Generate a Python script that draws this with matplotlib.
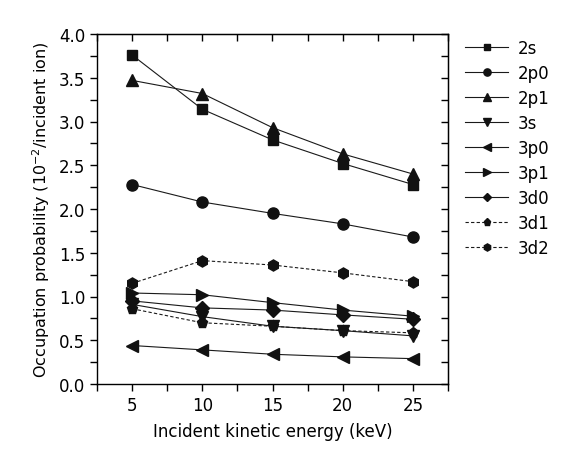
import matplotlib
matplotlib.use("Agg")
import matplotlib.pyplot as plt
from matplotlib.ticker import MultipleLocator, FormatStrFormatter

plt.rcParams['font.family'] = ['DejaVu Sans']

energy = [5, 10, 15, 20, 25]
labels = ['2s', '2p0', '2p1', '3s', '3p0', '3p1', '3d0', '3d1', '3d2']
v_2s  = [3.76, 3.14, 2.79, 2.52, 2.28]
v_2p0 = [2.28, 2.08, 1.95, 1.83, 1.68]
v_2p1 = [3.47, 3.32, 2.93, 2.63, 2.40]
v_3s  = [0.91, 0.77, 0.66, 0.61, 0.55]
v_3p0 = [0.44, 0.39, 0.34, 0.31, 0.29]
v_3p1 = [1.04, 1.02, 0.93, 0.845, 0.775]
v_3d0 = [0.95, 0.87, 0.845, 0.79, 0.74]
v_3d1 = [0.86, 0.70, 0.66, 0.61, 0.585]
v_3d2 = [1.15, 1.41, 1.36, 1.27, 1.17]
series = [v_2s, v_2p0, v_2p1, v_3s, v_3p0, v_3p1, v_3d0, v_3d1, v_3d2]
markers = ['s', 'o', '^', 'v', '<', '>', 'D', 'p', 'h']
msizes = [7, 8, 8, 8, 8, 8, 7, 8, 8]
styles = ['-', '-', '-', '-', '-', '-', '-', (0, (3, 2)), (0, (3, 2))]

fig = plt.figure(figsize=(5.61, 4.52), dpi=100)
ax = fig.add_axes([97/561, 1-385/452, (448-97)/561, (385-35)/452])

for vals, lab, m, ms, ls in zip(series, labels, markers, msizes, styles):
    ax.plot(energy, vals, linestyle=ls, color='#1a1a1a', lw=0.8,
            marker=m, markersize=ms, markerfacecolor='#111111',
            markeredgecolor='#111111', label=lab)

ax.set_xlim(2.5, 27.5)
ax.set_ylim(0, 4.0)
ax.xaxis.set_major_locator(MultipleLocator(5))
ax.xaxis.set_minor_locator(MultipleLocator(2.5))
ax.yaxis.set_major_locator(MultipleLocator(0.5))
ax.yaxis.set_minor_locator(MultipleLocator(0.25))
ax.yaxis.set_major_formatter(FormatStrFormatter('%.1f'))

for s in ax.spines.values():
    s.set_linewidth(1.0)

ax.tick_params(which='both', direction='out', bottom=True, left=True,
               top=False, right=False, labelsize=12, width=1.0, length=5)

sec_x = ax.secondary_xaxis('top')
sec_x.xaxis.set_major_locator(MultipleLocator(5))
sec_x.xaxis.set_minor_locator(MultipleLocator(2.5))
sec_x.tick_params(which='both', direction='in', length=5, width=1.0, labeltop=False)
sec_y = ax.secondary_yaxis('right')
sec_y.yaxis.set_major_locator(MultipleLocator(0.5))
sec_y.yaxis.set_minor_locator(MultipleLocator(0.25))
sec_y.tick_params(which='both', direction='in', length=5, width=1.0, labelright=False)

ax.set_xlabel('Incident kinetic energy (keV)', fontsize=12, labelpad=6)
ax.set_ylabel('Occupation probability (10$^{-2}$/incident ion)', fontsize=11.5, labelpad=5)

fig.legend(loc='upper left', bbox_to_anchor=(465/561, 1-40/452),
           bbox_transform=fig.transFigure, frameon=False, fontsize=12,
           labelspacing=0.42, handlelength=2.6, handletextpad=0.55,
           borderaxespad=0, borderpad=0, markerscale=0.65)

fig.savefig('out.png', dpi=100)
